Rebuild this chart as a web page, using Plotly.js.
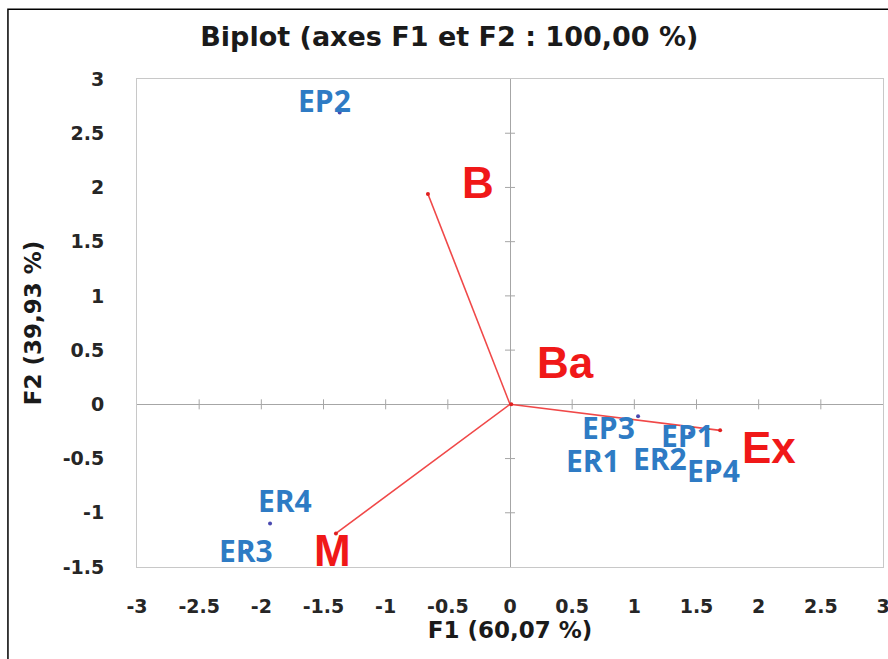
<!DOCTYPE html>
<html><head><meta charset="utf-8">
<script src="https://cdn.plot.ly/plotly-3.0.1.min.js"></script>
<style>html,body{margin:0;padding:0;background:#fff}#chart{width:888px;height:659px}</style>
</head><body><div id="chart"></div>
<script>
// Observations
const obsNames = ['EP1','EP2','EP3','EP4','ER1','ER2','ER3','ER4'];
const obsF1 = [1.45, -1.37, 1.03, 1.64, 0.67, 1.21, -2.12, -1.93];
const obsF2 = [-0.27, 2.69, -0.11, -0.61, -0.52, -0.50, -1.35, -1.10];
// Variables
const varNames = ['B','Ba','Ex','M'];
const varF1 = [-0.66, 0.01, 1.69, -1.40];
const varF2 = [1.94, 0.00, -0.24, -1.19];
// Axis ticks
const xTicks = [-3,-2.5,-2,-1.5,-1,-0.5,0,0.5,1,1.5,2,2.5,3];
const yTicks = [-1.5,-1,-0.5,0,0.5,1,1.5,2,2.5,3];

// label offsets (style, pixels)
const obsShift = {EP2:[-15,12], ER4:[15,23], EP3:[-30,-11], EP1:[-3,-2]};
const varShift = {B:[50,11], Ba:[54,42], Ex:[49,-17], M:[-3,-17]};

const blue = '#2e7bc4', red = '#f01818', lineRed = '#f04848';
const tickFont = {family:'DejaVu Sans, sans-serif', size:19, color:'#262626', weight:700};
const titleFont = {family:'DejaVu Sans, sans-serif', size:23, color:'#1a1a1a', weight:700};

const vx = [], vy = [];
varF1.forEach((v,i)=>{ vx.push(0, v, null); vy.push(0, varF2[i], null); });

const traces = [
  {x: vx, y: vy, mode:'lines', line:{color:lineRed, width:1.6}, hoverinfo:'skip', showlegend:false},
  {x: varF1, y: varF2, mode:'markers', marker:{color:'#e02020', size:4}, showlegend:false},
  {x: obsF1, y: obsF2, mode:'markers', marker:{color:'#4a4ab0', size:4}, showlegend:false}
];

const annotations = [];
obsNames.forEach((n,i)=>{
  const s = obsShift[n] || [0,0];
  annotations.push({x: obsF1[i], y: obsF2[i], xref:'x', yref:'y', text:n, showarrow:false,
    xshift:s[0], yshift:s[1], font:{family:'Open Sans, sans-serif', size:30, color:blue, weight:700}});
});
varNames.forEach((n,i)=>{
  const s = varShift[n] || [0,0];
  annotations.push({x: varF1[i], y: varF2[i], xref:'x', yref:'y', text:n, showarrow:false,
    xshift:s[0], yshift:s[1], font:{family:'Liberation Sans, Arial, sans-serif', size:44, color:red, weight:700}});
});

const shapes = [];
xTicks.forEach(t=>{ if (t!==0 && Math.abs(t)<3) shapes.push({type:'line', xref:'x', yref:'y', ysizemode:'pixel', yanchor:0, x0:t, x1:t, y0:-5, y1:5, line:{color:'#a6a6a6', width:1}}); });
yTicks.forEach(t=>{ if (t!==0 && t>-1.5 && t<3) shapes.push({type:'line', xref:'x', yref:'y', xsizemode:'pixel', xanchor:0, y0:t, y1:t, x0:-5, x1:5, line:{color:'#a6a6a6', width:1}}); });
// outer black frame (left and top edges)
shapes.push({type:'path', xref:'paper', yref:'paper', path:'M -0.173 -0.3 L -0.173 1.143 L 1.2 1.143', line:{color:'#000', width:1.5}});

const layout = {
  width:888, height:659,
  margin:{l:137, r:5, t:79, b:92},
  paper_bgcolor:'#fff', plot_bgcolor:'#fff',
  title:{text:'Biplot (axes F1 et F2 : 100,00 %)', x:0.506, xref:'container', y:0.945, yref:'container', yanchor:'middle',
    font:{family:'DejaVu Sans, sans-serif', size:27, color:'#1a1a1a', weight:700}},
  xaxis:{range:[-3,3], tickvals:xTicks, ticktext:xTicks.map(String), showgrid:false,
    zeroline:true, zerolinecolor:'#a6a6a6', zerolinewidth:1,
    showline:true, mirror:true, linecolor:'#c8c8c8', linewidth:1, ticks:'',
    ticklabeloverflow:'allow', ticklabelstandoff:22, tickfont:tickFont,
    title:{text:'F1 (60,07 %)', standoff:4, font:titleFont}},
  yaxis:{range:[-1.5,3], tickvals:yTicks, ticktext:yTicks.map(String), showgrid:false,
    zeroline:true, zerolinecolor:'#a6a6a6', zerolinewidth:1,
    showline:true, mirror:true, linecolor:'#c8c8c8', linewidth:1, ticks:'',
    ticklabeloverflow:'allow', ticklabelstandoff:28, tickfont:tickFont,
    title:{text:'F2 (39,93 %)', standoff:14, font:titleFont}},
  annotations: annotations,
  shapes: shapes,
  showlegend:false
};
Plotly.newPlot('chart', traces, layout, {displayModeBar:false, staticPlot:true});
</script></body></html>
